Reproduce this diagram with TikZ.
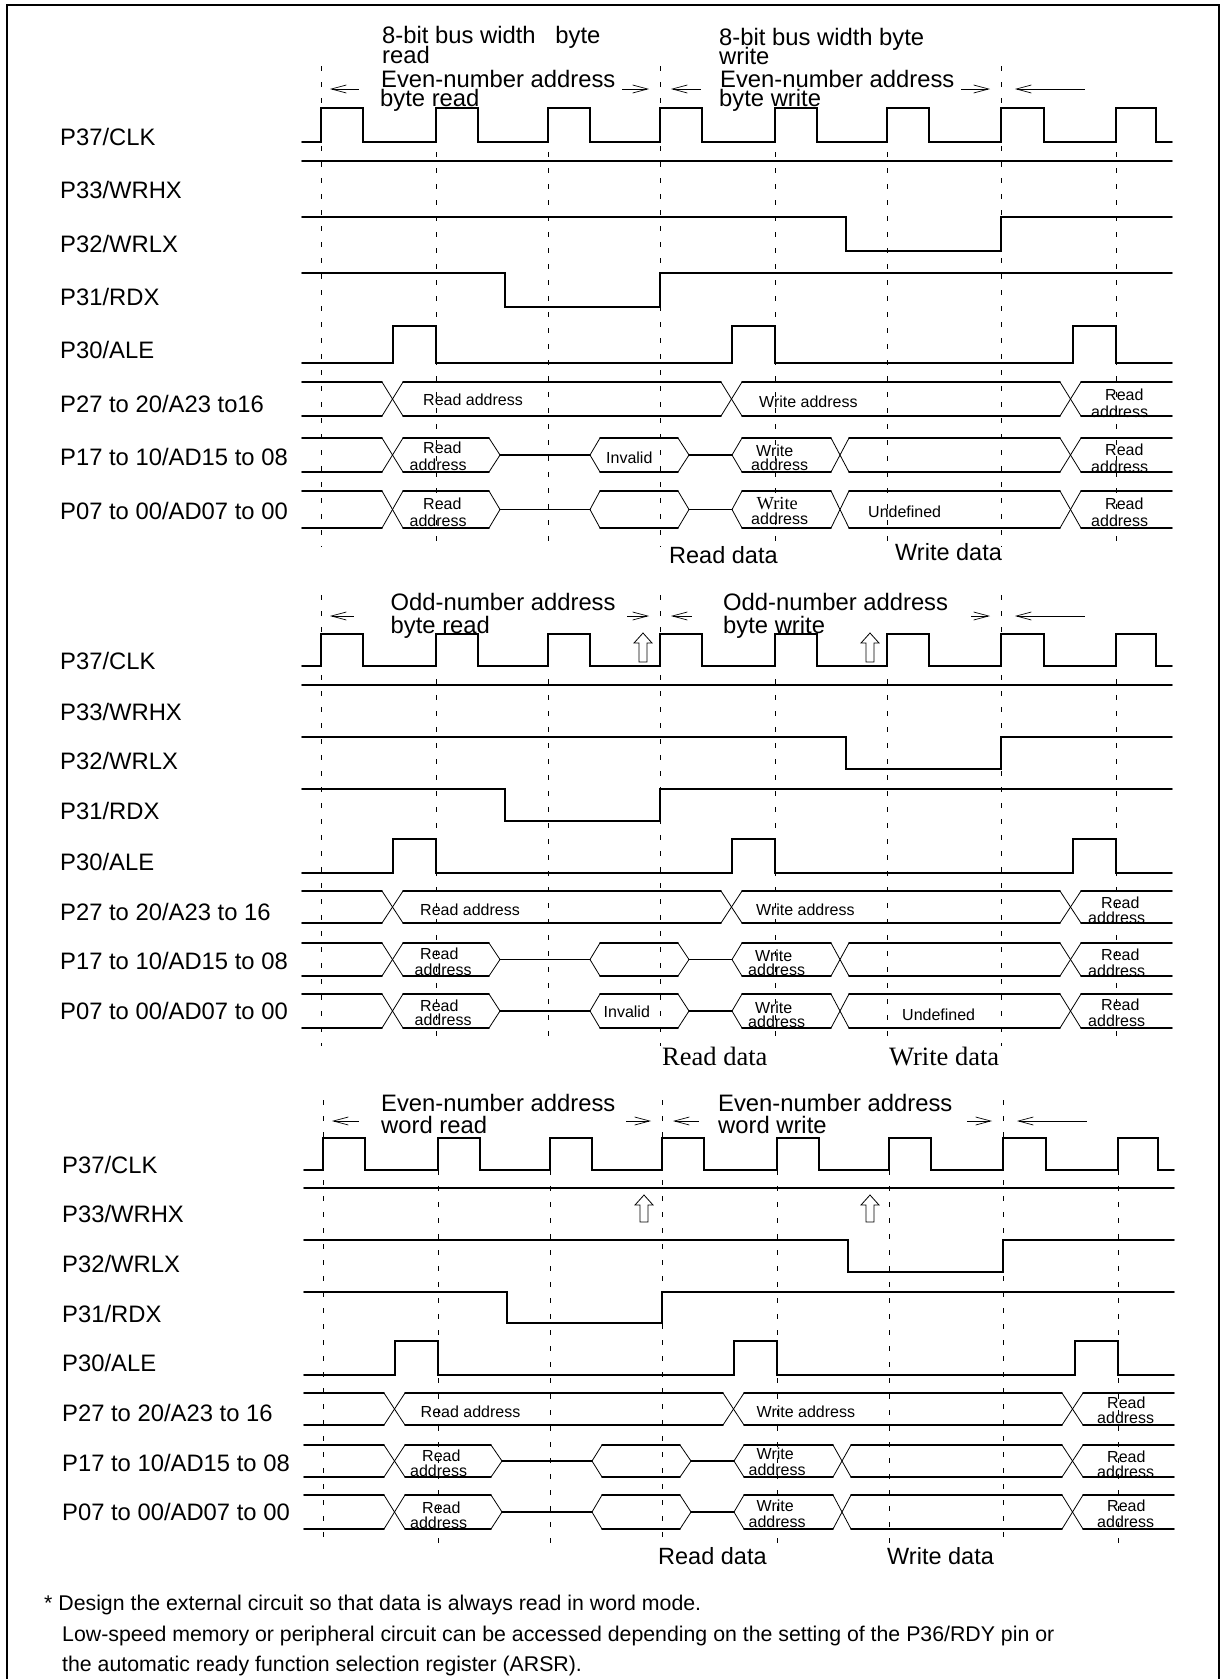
\documentclass[tikz,border=0pt]{standalone}
\usepackage{fontspec}
\setmainfont{Liberation Sans}
\newfontfamily\timesface{Liberation Serif}
\usetikzlibrary{arrows.meta}

% Edges of the clock, as rise/fall pairs
\newcommand*{\clkedges}{321/363, 436/478, 548/590, 660/702, 775/817, 887/929, 1001/1044, 1116/1156}

\newcommand*{\signalrows}[9]{
  \draw[wave] (302, #2) \foreach \R/\F in \clkedges { -- (\R, #2) -- (\R, #1) -- (\F, #1) -- (\F, #2) } -- (1172, #2);
  \draw[wave] (302, #3) -- (1172, #3);
  \draw[wave] (302, #4) -- (846, #4) -- (846, #5) -- (1001, #5) -- (1001, #4) -- (1172, #4);
  \draw[wave] (302, #6) -- (505, #6) -- (505, #7) -- (660, #7) -- (660, #6) -- (1172, #6);
  \draw[wave] (302, #9) \foreach \R/\F in {393/436, 732/775, 1073/1116} { -- (\R, #9) -- (\R, #8) -- (\F, #8) -- (\F, #9) } -- (1172, #9);
}

\newcommand*{\addrbus}[2]{
  \foreach \B/\E in {302/382, 403/721, 742/1060, 1081/1172} {
    \draw[wave] (\B, #1) -- (\E, #1);
    \draw[wave] (\B, #2) -- (\E, #2);
  }
  \foreach \B/\E in {382/403, 721/742, 1060/1081} {
    \draw[edge] (\B, #1) -- (\E, #2);
    \draw[edge] (\B, #2) -- (\E, #1);
  }
}

\newcommand*{\databus}[2]{
  \foreach \B/\E in {302/382, 403/489, 600/678, 742/831, 849/1060, 1081/1172} {
    \draw[wave] (\B, #1) -- (\E, #1);
    \draw[wave] (\B, #2) -- (\E, #2);
  }
  \foreach \B/\E in {382/403, 831/849, 1060/1081} {
    \draw[edge] (\B, #1) -- (\E, #2);
    \draw[edge] (\B, #2) -- (\E, #1);
  }
  \foreach \B/\E in {489/500, 600/590, 678/689, 742/732} {
    \draw[edge] (\B, #1) -- (\E, {(#1 + #2) / 2});
    \draw[edge] (\B, #2) -- (\E, {(#1 + #2) / 2});
  }
  \foreach \B/\E in {500/590, 689/732} {
    \draw[wave] (\B, {(#1 + #2) / 2}) -- (\E, {(#1 + #2) / 2});
  }
}

\newcommand*{\gridlines}[3]{
  \foreach \X in {321, 660, 1001} { \draw[grid] (\X, #1) -- (\X, #3); }
  \foreach \X in {436, 548, 775, 887, 1116} { \draw[grid] (\X, #2) -- (\X, #3); }
}

% x, then the baselines of the rows other than P27
\newcommand*{\signames}[8]{
  \node (clk#2) at (#1, #2) [sigtext] { P37/CLK };
  \node (wrhx#3) at (#1, #3) [sigtext] { P33/WRHX };
  \node (wrlx#4) at (#1, #4) [sigtext] { P32/WRLX };
  \node (rdx#5) at (#1, #5) [sigtext] { P31/RDX };
  \node (ale#6) at (#1, #6) [sigtext] { P30/ALE };
  \node (adh#7) at (#1, #7) [sigtext] { P17 to 10/AD15 to 08 };
  \node (adl#8) at (#1, #8) [sigtext] { P07 to 00/AD07 to 00 };
}

\newcommand*{\hollowup}[3]{
  \draw[edge, fill=white] (#1, #2) -- (#1 + 9, #2 + 10) -- (#1 + 4, #2 + 10) -- (#1 + 4, #3)
    -- (#1 - 4, #3) -- (#1 - 4, #2 + 10) -- (#1 - 9, #2 + 10) -- cycle;
}

\begin{document}
\begin{tikzpicture}[
   x=1pt, y=-1pt,
   wave/.style={draw=black, line width=1.6, line cap=round, line join=miter},
   edge/.style={draw=black, line width=0.8},
   grid/.style={draw=black, line width=0.8, dash pattern=on 5pt off 11pt},
   span/.style={draw=black, line width=0.7, >={Straight Barb[length=15pt, width=8pt]}},
   sigtext/.style={anchor=base west, inner sep=0, font=\fontsize{23.8}{24}\selectfont},
   headtext/.style={anchor=base west, inner sep=0, font=\fontsize{23.8}{24}\selectfont},
   celltext/.style={anchor=base west, inner sep=0, font=\fontsize{16}{16}\selectfont},
   celltimes/.style={anchor=base west, inner sep=0, font=\fontsize{18.4}{18}\selectfont\timesface},
   datatext/.style={anchor=base west, inner sep=0, font=\fontsize{23.5}{24}\selectfont},
   datatimes/.style={anchor=base west, inner sep=0, font=\fontsize{26.5}{26}\selectfont\timesface},
   notetext/.style={anchor=base west, inner sep=0, font=\fontsize{21.3}{22}\selectfont}
  ]

  \useasboundingbox (0, 0) rectangle (1226, 1679);

  % Frame, open at the bottom
  \draw[line width=2] (7, 1679) -- (7, 5) -- (1219, 5) -- (1219, 1679);

  % Byte access, even address
  \begin{scope}[shift={(0, 0)}]
    \gridlines{66}{152}{547}
    \signalrows{108}{142}{161}{217}{251}{273}{307}{326}{363}
    \addrbus{382}{416}
    \databus{438}{472}
    \databus{491}{528}

    \foreach \B/\E in {330/359, 671/701, 1015/1085} { \draw[span, <-] (\B, 89) -- (\E, 89); }
    \foreach \B/\E in {622/649, 961/990} { \draw[span, ->] (\B, 89) -- (\E, 89); }
  \end{scope}

  \signames{60}{145}{198}{252}{305}{358}{465}{519}
  \node (aaa) at (60, 412) [sigtext] { P27 to 20/A23 to16 };

  \node (ttla) at (382, 43) [headtext] { 8-bit bus width\ \ \ byte };
  \node (ttlb) at (382, 63) [headtext] { read };
  \node (ttlc) at (381, 87) [headtext] { Even-number address };
  \node (ttld) at (380, 106) [headtext] { byte read };
  \node (ttle) at (719, 45) [headtext] { 8-bit bus width byte };
  \node (ttlf) at (719, 64) [headtext] { write };
  \node (ttlg) at (720, 87) [headtext] { Even-number address };
  \node (ttlh) at (719, 106) [headtext] { byte write };

  \foreach \X/\Y in {423/453, 423/509, 1105/400, 1105/455, 1105/509} { \node (rd\X-\Y) at (\X, \Y) [celltext] { Read }; }
  \foreach \X/\Y in {409.5/470, 409.5/526, 751/470, 751/524, 1091/417, 1091/472, 1091/526} { \node (ad\Y-\X) at (\X, \Y) [celltext] { address }; }
  \node (raa) at (423, 405) [celltext] { Read address };
  \node (waa) at (759, 407) [celltext] { Write address };
  \node (wra) at (756, 456) [celltext] { Write };
  \node (wrb) at (756.5, 509) [celltimes] { Write };
  \node (inv) at (606, 463) [celltext] { Invalid };
  \node (und) at (868, 517) [celltext] { Undefined };
  \node (rda) at (669, 563) [datatext] { Read data };
  \node (wda) at (895, 560) [datatext] { Write data };

  % Byte access, odd address
  \begin{scope}[shift={(0, 0)}]
    \gridlines{595}{679}{1046}
    \signalrows{634}{666}{685}{737}{769}{789}{821}{839}{873}
    \addrbus{891}{923}
    \databus{943}{976}
    \databus{994}{1028}

    \foreach \B/\E in {330/354, 671/692, 1015/1085} { \draw[span, <-] (\B, 616) -- (\E, 616); }
    \foreach \B/\E in {627/649, 971/990} { \draw[span, ->] (\B, 616) -- (\E, 616); }
    \hollowup{643}{633}{662}
    \hollowup{870}{633}{662}
  \end{scope}

  \signames{60}{669}{720}{769}{819}{870}{969}{1019}
  \node (bbb) at (60, 920) [sigtext] { P27 to 20/A23 to 16 };

  \node (ttli) at (390.5, 610) [headtext] { Odd-number address };
  \node (ttlj) at (390.5, 633) [headtext] { byte read };
  \node (ttlk) at (723, 610) [headtext] { Odd-number address };
  \node (ttll) at (723, 633) [headtext] { byte write };

  \foreach \X/\Y in {420/959, 420/1011, 1101/908, 1101/960, 1101/1010} { \node (rd\X-\Y) at (\X, \Y) [celltext] { Read }; }
  \foreach \X/\Y in {414.5/975, 414.5/1025, 748/975, 748/1027, 1088/923, 1088/976, 1088/1026} { \node (ad\Y-\X) at (\X, \Y) [celltext] { address }; }
  \node (rab) at (420, 915) [celltext] { Read address };
  \node (wab) at (756, 915) [celltext] { Write address };
  \node (wrc) at (755, 961) [celltext] { Write };
  \node (wrd) at (755, 1013) [celltext] { Write };
  \node (inb) at (603.5, 1017) [celltext] { Invalid };
  \node (unb) at (902, 1020) [celltext] { Undefined };
  \node (rdb) at (662, 1065) [datatimes] { Read data };
  \node (wdb) at (889, 1065) [datatimes] { Write data };

  % Word access, even address
  \begin{scope}[shift={(2, 0)}]
    \gridlines{1100}{1170}{1546}
    \signalrows{1138}{1170}{1188}{1240}{1272}{1292}{1323}{1341}{1375}
    \addrbus{1393}{1425}
    \databus{1445}{1477}
    \databus{1495}{1529}

    \foreach \B/\E in {330/357, 671/697, 1015/1085} { \draw[span, <-] (\B, 1121) -- (\E, 1121); }
    \foreach \B/\E in {624/649, 965/990} { \draw[span, ->] (\B, 1121) -- (\E, 1121); }
    \hollowup{642}{1195}{1222}
    \hollowup{868}{1195}{1222}
  \end{scope}

  \signames{62}{1173}{1222}{1272}{1322}{1371}{1471}{1520}
  \node (ccc) at (62, 1421) [sigtext] { P27 to 20/A23 to 16 };

  \node (ttlm) at (381, 1111) [headtext] { Even-number address };
  \node (ttln) at (381, 1133) [headtext] { word read };
  \node (ttlo) at (718, 1111) [headtext] { Even-number address };
  \node (ttlp) at (718, 1133) [headtext] { word write };

  \foreach \X/\Y in {422/1461, 422/1513, 1107/1408, 1107/1462, 1107/1511} { \node (rd\X-\Y) at (\X, \Y) [celltext] { Read }; }
  \foreach \X/\Y in {410/1476, 410/1528, 748.5/1475, 748.5/1527, 1097/1423, 1097/1477, 1097/1527} { \node (ad\Y-\X) at (\X, \Y) [celltext] { address }; }
  \node (rac) at (420.5, 1417) [celltext] { Read address };
  \node (wac) at (756.5, 1417) [celltext] { Write address };
  \node (wre) at (756.5, 1459) [celltext] { Write };
  \node (wrf) at (756.5, 1511) [celltext] { Write };
  \node (rdc) at (658, 1564) [datatext] { Read data };
  \node (wdc) at (887, 1564) [datatext] { Write data };

  \node (nota) at (44, 1610) [notetext] { * Design the external circuit so that data is always read in word mode. };
  \node (notb) at (62, 1641) [notetext] { Low-speed memory or peripheral circuit can be accessed depending on the setting of the P36/RDY pin or };
  \node (notc) at (62, 1671) [notetext] { the automatic ready function selection register (ARSR). };

\end{tikzpicture}
\end{document}
